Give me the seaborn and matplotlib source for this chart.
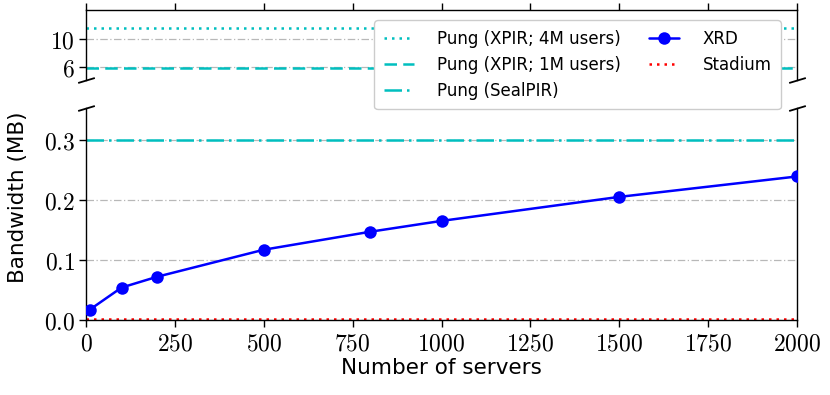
import numpy as np
import pandas as pd
import matplotlib
matplotlib.use("Agg")
import matplotlib.pyplot as plt
from matplotlib.ticker import FuncFormatter
from matplotlib.lines import Line2D
import seaborn as sns

# data
servers = [10, 100, 200, 500, 800, 1000, 1500, 2000]
xrd_mb = [0.017, 0.054, 0.072, 0.117, 0.147, 0.165, 0.205, 0.239]
pung_xpir_4m = 11.5
pung_xpir_1m = 5.95
pung_sealpir = 0.3
stadium_mb = 0.002

top_ticks = [6, 10]
bottom_ticks = [0.0, 0.1, 0.2, 0.3]
x_ticks = [0, 250, 500, 750, 1000, 1250, 1500, 1750, 2000]

sns.set_style("ticks")
plt.rcParams["font.family"] = ["DejaVu Sans"]
plt.rcParams["mathtext.fontset"] = "cm"
for k in ["axes.edgecolor", "axes.labelcolor", "text.color", "xtick.color", "ytick.color"]:
    plt.rcParams[k] = "black"

df = pd.DataFrame({"servers": servers, "bw": xrd_mb})

fig = plt.figure(figsize=(8.3, 3.95), dpi=100)
left, right = 86 / 830, 797 / 830
ax_top = fig.add_axes([left, 1 - 80 / 395, right - left, 70 / 395])
ax_bot = fig.add_axes([left, 1 - 320 / 395, right - left, 212 / 395])

cyan = "#00bfbf"
handles = {}
for ax in (ax_top, ax_bot):
    handles["4m"] = ax.axhline(pung_xpir_4m, color=cyan, ls=(0, (1, 2)), lw=1.8)
    handles["1m"] = ax.axhline(pung_xpir_1m, color=cyan, ls=(0, (5, 2.5)), lw=1.8)
    handles["seal"] = ax.axhline(pung_sealpir, color=cyan, ls=(0, (7, 2, 1, 2)), lw=1.8)
    handles["stadium"] = ax.axhline(stadium_mb, color="red", ls=(0, (1, 2)), lw=1.8)
    ax.set_xlim(0, 2000)
    ax.set_xticks(x_ticks)
    ax.grid(axis="y", color="#b8b8b8", ls=(0, (6, 2, 1, 2)), lw=0.9)
    ax.set_axisbelow(True)
    for s in ax.spines.values():
        s.set_linewidth(1.0)
    ax.tick_params(direction="out", length=5, width=1)

sns.lineplot(data=df, x="servers", y="bw", ax=ax_bot, color="blue", lw=1.8,
             marker="o", markersize=9, markeredgewidth=0, zorder=5)
handles["xrd"] = ax_bot.lines[-1]
ax_bot.set_xlabel("")
ax_bot.set_ylabel("")

ax_top.set_ylim(4.25, 14)
ax_top.set_yticks(top_ticks)
ax_top.spines["bottom"].set_visible(False)
ax_top.xaxis.tick_top()
ax_top.tick_params(axis="x", labeltop=False)

ax_bot.set_ylim(0, 0.353)
ax_bot.set_yticks(bottom_ticks)
ax_bot.spines["top"].set_visible(False)
ax_bot.xaxis.tick_bottom()

ax_top.yaxis.set_major_formatter(FuncFormatter(lambda v, p: r"$%d$" % v))
ax_bot.yaxis.set_major_formatter(FuncFormatter(lambda v, p: r"$%.1f$" % v))
ax_bot.xaxis.set_major_formatter(FuncFormatter(lambda v, p: r"$%d$" % v))
for ax in (ax_top, ax_bot):
    ax.tick_params(labelsize=17, pad=3)

# break marks
mk = dict(marker=[(-1, -0.3), (1, 0.3)], markersize=12, linestyle="none",
          color="k", mec="k", mew=1.3, clip_on=False)
ax_top.plot([0, 1], [0, 0], transform=ax_top.transAxes, **mk)
ax_bot.plot([0, 1], [1, 1], transform=ax_bot.transAxes, **mk)

ax_bot.set_xlabel("Number of servers", fontsize=15.5, labelpad=2)
fig.text(0.022, 0.5, "Bandwidth (MB)", rotation=90, va="center", ha="center", fontsize=15.5)

h_blank = Line2D([], [], alpha=0)
leg = fig.legend(
    [handles["4m"], handles["1m"], handles["seal"], handles["xrd"], handles["stadium"], h_blank],
    ["Pung (XPIR; 4M users)", "Pung (XPIR; 1M users)", "Pung (SealPIR)", "XRD", "Stadium", ""],
    ncol=2, loc="upper right", bbox_to_anchor=(789 / 830, 1 - 12 / 395),
    fontsize=12, frameon=True, fancybox=True, framealpha=1, edgecolor="#cccccc",
    handlelength=1.8, handletextpad=1.4, columnspacing=1.7, borderpad=0.55, labelspacing=0.5,
)
leg.set_zorder(10)

fig.savefig("out.png", dpi=100)
